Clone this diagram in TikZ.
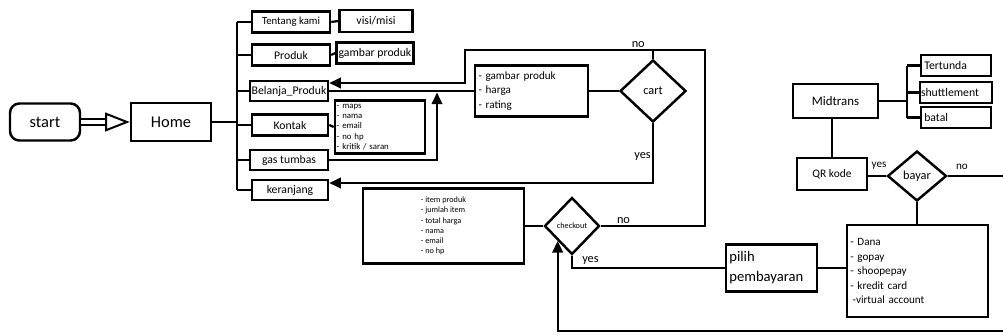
\documentclass[tikz,border=0pt]{standalone}
\usepackage{fontspec}
\setmainfont{Carlito}
\usetikzlibrary{arrows.meta}
\usetikzlibrary{shapes.geometric}
\usetikzlibrary{calc}

\begin{document}
\begin{tikzpicture}[
    x=0.03cm, y=-0.03cm,
    line width=1.9pt,
    box/.style={draw, line width=2.1pt, inner sep=1pt, align=center, font=\fontsize{10}{12}\selectfont},
    list/.style={draw, line width=2.1pt, inner xsep=3pt, inner ysep=1pt, align=left},
    choice/.style={draw, diamond, aspect=1, line width=2.1pt, inner sep=0pt},
    arr/.style={-{Triangle[length=10pt,width=9pt]}},
    lbl/.style={font=\fontsize{10.5}{12}\selectfont, inner sep=1pt}
  ]
    \useasboundingbox (0,0) rectangle (1003,335);

    % start and home
    \node[box, rounded corners=8pt, minimum width=2.1cm, minimum height=1.11cm, font=\fontsize{14}{16}\selectfont] (start) at (45,122) {start};
    \node[box, minimum width=2.4cm, minimum height=1.14cm, font=\fontsize{14}{16}\selectfont] (home) at (171,122) {Home};
    \draw[double, double distance=4.2pt, line width=1.7pt, -{Triangle[open, length=21pt, width=16pt]}] (start.east) -- (home.west);

    % menu
    \node[box, minimum width=2.34cm, minimum height=0.63cm, font=\fontsize{9.2}{11}\selectfont] (tentang) at (291,22) {Tentang kami};
    \node[box, minimum width=2.19cm, minimum height=0.66cm] (visi) at (376,21) {visi/misi};
    \node[box, minimum width=2.34cm, minimum height=0.63cm] (produk) at (291,55) {Produk};
    \node[box, minimum width=2.31cm, minimum height=0.63cm] (gambar) at (375,53) {gambar produk};
    \node[box, minimum width=2.34cm, minimum height=0.6cm] (belanja) at (289,91) {Belanja\_Produk};
    \node[box, minimum width=2.28cm, minimum height=0.63cm] (kontak) at (290,125) {Kontak};
    \node[list, inner xsep=1.5pt, text width=2.6cm, minimum height=1.59cm, font=\fontsize{7.5}{8.8}\selectfont] (kontakinfo) at (380,127)
      {- maps\\- nama\\- email\\- no hp\\- kritik / saran};
    \node[box, minimum width=2.34cm, minimum height=0.6cm] (gas) at (289,160) {gas tumbas};
    \node[box, minimum width=2.28cm, minimum height=0.6cm] (keranjang) at (290,190) {keranjang};

    \coordinate (trunk) at (237,22);
    \draw (home.east) -- (home.east -| trunk);
    \draw (trunk) -- (trunk |- keranjang.west);
    \foreach \n in {tentang,produk,belanja,kontak,gas,keranjang}
      \draw (trunk |- \n.west) -- (\n.west);
    \draw (tentang.east) -- (visi.west);
    \draw (produk.east) -- (gambar.west);
    \draw (kontak.east) -- (kontakinfo.west);

    % produk and cart
    \node[list, text width=3.18cm, minimum height=1.53cm, font=\fontsize{9.5}{12.3}\selectfont] (produkinfo) at (531.5,91)
      {- gambar produk\\- harga\\- rating};
    \node[choice, minimum width=1.98cm, minimum height=1.86cm, font=\fontsize{10.5}{12}\selectfont] (cart) at (653,91) {cart};
    \draw (belanja.east) -- (produkinfo.west);
    \draw (produkinfo.east) -- (cart.west);

    \coordinate (gasup) at (437,92.5);
    \draw[arr] (gas.east) -| (gasup);

    \coordinate (n1) at (465,50);
    \coordinate (n2) at (465,83);
    \draw[arr] (cart.north) |- (n1) -- (n2) -- (belanja.east |- n2);
    \node[lbl, anchor=south east] at ($(cart.north |- n1)+(-6,0)$) {no};

    \coordinate (y1) at (653,183);
    \draw[arr] (cart.south) -- (y1) -- (keranjang.east |- y1);
    \node[lbl, anchor=east] at ($(cart.south)!0.55!(y1)$) {yes};

    % checkout
    \node[draw, line width=2.1pt, align=left, minimum width=4.83cm, minimum height=2.25cm, font=\fontsize{7}{8.8}\selectfont] (checkinfo) at (443.5,226)
      {- item produk\\- jumlah item\\- total harga\\- nama\\- email\\- no hp};
    \node[choice, minimum width=1.65cm, minimum height=1.71cm, font=\fontsize{7}{8}\selectfont] (checkout) at (572,226) {checkout};
    \draw (checkinfo.east) -- (checkout.west);

    \coordinate (c1) at (705,50);
    \draw (checkout.east) -| (c1) -- (cart.north |- c1);
    \node[lbl, anchor=south west] at ($(checkout.east)+(14,0)$) {no};

    % pembayaran
    \node[list, text width=2.53cm, minimum height=1.41cm, font=\fontsize{12.5}{17}\selectfont] (pilih) at (771.5,268) {pilih\\pembayaran};
    \node[list, text width=4.03cm, minimum height=2.76cm, font=\fontsize{9.5}{12.4}\selectfont] (pay) at (917.5,271)
      {- Dana\\- gopay\\- shoopepay\\- kredit card\\\hspace*{2pt}-virtual account};
    \draw (checkout.south) |- (pilih.west);
    \node[lbl, anchor=south west] at ($(checkout.south |- pilih.west)+(8,-1)$) {yes};
    \draw (pilih.east) -- (pilih.east -| pay.west);

    \coordinate (offc) at (1003,331);
    \draw[arr] (offc) -| (checkout.south west);

    % midtrans
    \node[box, minimum width=2.55cm, minimum height=1.02cm, font=\fontsize{11}{13}\selectfont] (midtrans) at (835.5,101) {Midtrans};
    \node[list, text width=1.9cm, minimum height=0.63cm, font=\fontsize{10}{11}\selectfont] (tertunda) at (956,65.5) {Tertunda};
    \node[list, inner xsep=1pt, text width=2.1cm, minimum height=0.63cm, font=\fontsize{10}{11}\selectfont] (shuttle) at (956,92.5) {shuttlement};
    \node[list, text width=1.9cm, minimum height=0.63cm, font=\fontsize{10}{11}\selectfont] (batal) at (956,117.5) {batal};
    \coordinate (fork) at (907,65.5);
    \draw (midtrans.east) -- (midtrans.east -| fork);
    \draw (fork) -- (fork |- batal.west);
    \foreach \n in {tertunda,shuttle,batal}
      \draw (fork |- \n.west) -- (\n.west);

    \node[box, minimum width=2.1cm, minimum height=0.96cm, font=\fontsize{9.8}{11}\selectfont] (qr) at (832,174) {QR kode};
    \node[choice, minimum width=1.77cm, minimum height=1.5cm, font=\fontsize{10.5}{12}\selectfont] (bayar) at (917,176) {bayar};
    \draw (midtrans.south -| qr.north) -- (qr.north);
    \draw (qr.east |- bayar) -- (bayar.west);
    \node[lbl, anchor=south, font=\fontsize{9.5}{11}\selectfont] at ($(qr.east |- bayar)!0.6!(bayar.west)+(0,-4)$) {yes};
    \coordinate (offb) at (1003,176);
    \draw (bayar.east) -- (offb);
    \node[lbl, anchor=south west, font=\fontsize{9.5}{11}\selectfont] at ($(bayar.east)+(6,-4)$) {no};
    \draw (bayar.south) -- (bayar.south |- pay.north);
  \end{tikzpicture}
\end{document}
